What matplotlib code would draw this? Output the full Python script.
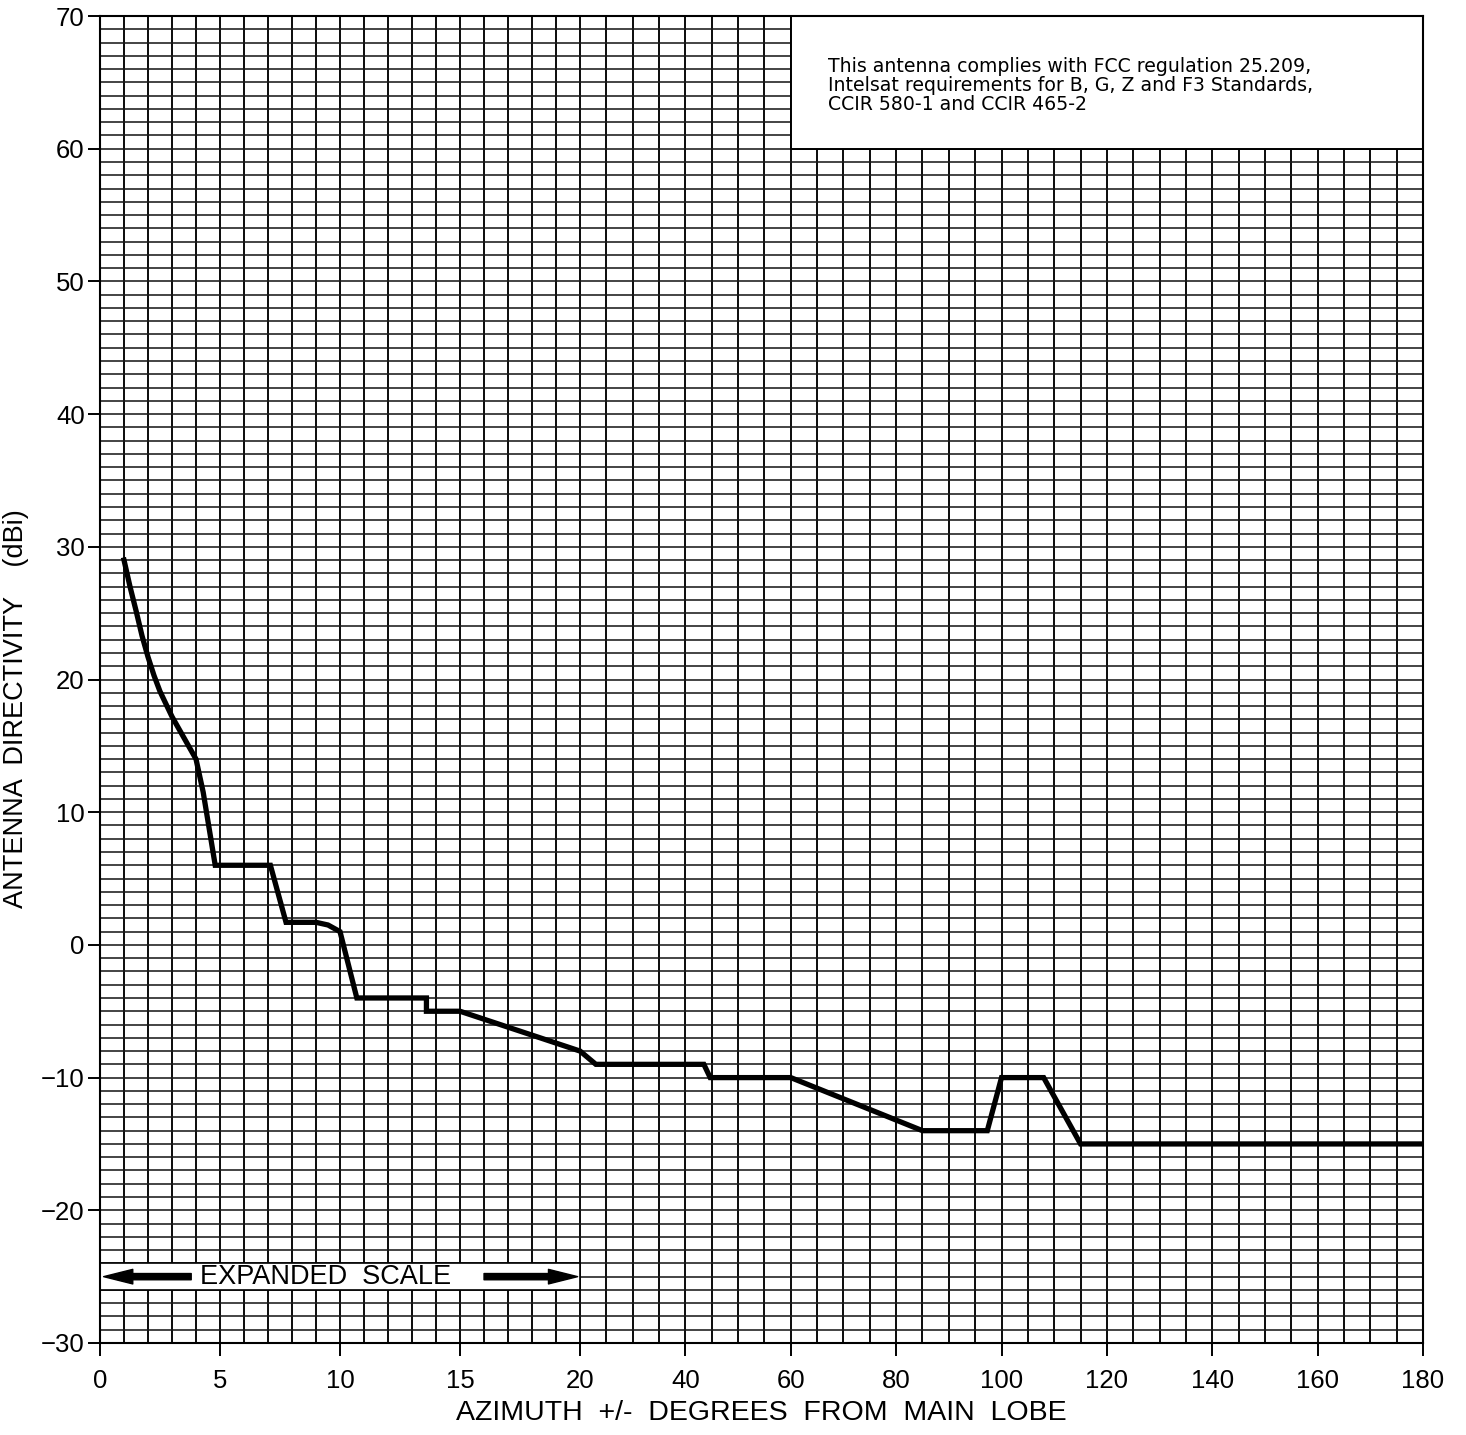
import numpy as np
import matplotlib
matplotlib.use("Agg")
import matplotlib.pyplot as plt
from matplotlib.patches import Rectangle

# Envelope (azimuth in deg, directivity in dBi)
azimuth = [1, 1.25, 1.5, 1.75, 2, 2.25, 2.5, 3, 3.5, 4, 4.3, 4.8, 7.1, 7.75,
           9, 9.5, 10, 10.7, 13.6, 13.6, 15, 20, 23, 43.5, 44.7, 60, 85, 97.3,
           100, 108, 115, 180]
directivity = [29, 27, 25.2, 23.3, 21.7, 20.3, 19.1, 17.2, 15.6, 14, 11.5, 6,
               6, 1.7, 1.7, 1.5, 1, -4, -4, -5, -5, -8, -9, -9, -10, -10, -14,
               -14, -10, -10, -15, -15]

x_ticks = [0, 5, 10, 15, 20, 40, 60, 80, 100, 120, 140, 160, 180]
y_ticks = list(range(-30, 71, 10))
x_grid = list(range(0, 21)) + list(range(25, 181, 5))
y_grid = list(range(-30, 71))

note = ("This antenna complies with FCC regulation 25.209,\n"
        "Intelsat requirements for B, G, Z and F3 Standards,\n"
        "CCIR 580-1 and CCIR 465-2")

# expanded scale 0-20, compressed above 20
K = 0.2195


def fwd(x):
    x = np.asarray(x, dtype=float)
    return np.where(x <= 20, x, 20 + (x - 20) * K)


def inv(u):
    u = np.asarray(u, dtype=float)
    return np.where(u <= 20, u, 20 + (u - 20) / K)


plt.rcParams['font.family'] = ['Liberation Sans', 'DejaVu Sans']

fig = plt.figure(figsize=(14.66, 14.35), dpi=100)
ax = fig.add_axes([100 / 1466, 1 - 1343 / 1435, 1323 / 1466, 1327 / 1435])
ax.set_xscale('function', functions=(fwd, inv))
ax.set_xlim(0, 180)
ax.set_ylim(-30, 70)

# grid
for gx in x_grid:
    ax.axvline(gx, color='#0a0a0a', lw=1.4, zorder=1)
for gy in y_grid:
    ax.axhline(gy, color='#1a1a1a', lw=1.15, zorder=1)

# note box and expanded-scale band
ax.add_patch(Rectangle((60, 60), 120, 10, facecolor='white', edgecolor='black',
                       lw=1.4, zorder=3))
ax.text(67, 66.9, note, fontsize=13.6, family='DejaVu Sans', va='top',
        ha='left', linespacing=0.98, zorder=4)

ax.add_patch(Rectangle((0, -26), 20, 2, facecolor='white', edgecolor='black',
                       lw=1.2, zorder=3))
arrow = dict(arrowstyle='simple,head_width=0.7,head_length=1.4,tail_width=0.3',
             color='black', mutation_scale=15, shrinkA=0, shrinkB=0)
ax.annotate('', xy=(0.15, -25), xytext=(3.8, -25), arrowprops=arrow, zorder=4)
ax.annotate('', xy=(19.9, -25), xytext=(16.0, -25), arrowprops=arrow, zorder=4)
ax.text(9.4, -25.05, 'EXPANDED  SCALE', fontsize=19.5, ha='center',
        va='center', zorder=4)

ax.plot(azimuth, directivity, color='black', lw=3.8, solid_joinstyle='miter',
        zorder=5)

ax.set_xticks(x_ticks)
ax.set_xticklabels([str(t) for t in x_ticks])
ax.set_yticks(y_ticks)
ax.tick_params(axis='both', direction='out', length=9, width=1.4,
               labelsize=18.5, color='black')
ax.tick_params(axis='x', pad=10)
ax.tick_params(axis='y', pad=2)
ax.minorticks_off()

for side in ['left', 'bottom', 'right', 'top']:
    ax.spines[side].set_linewidth(1.5)
    ax.spines[side].set_zorder(6)

ax.set_xlabel('AZIMUTH  +/-  DEGREES  FROM  MAIN  LOBE', fontsize=20.5,
              labelpad=5)
ax.set_ylabel('ANTENNA  DIRECTIVITY    (dBi)', fontsize=19.5)
ax.yaxis.set_label_coords(-0.054, 0.478)

fig.savefig('out.png', dpi=100)
